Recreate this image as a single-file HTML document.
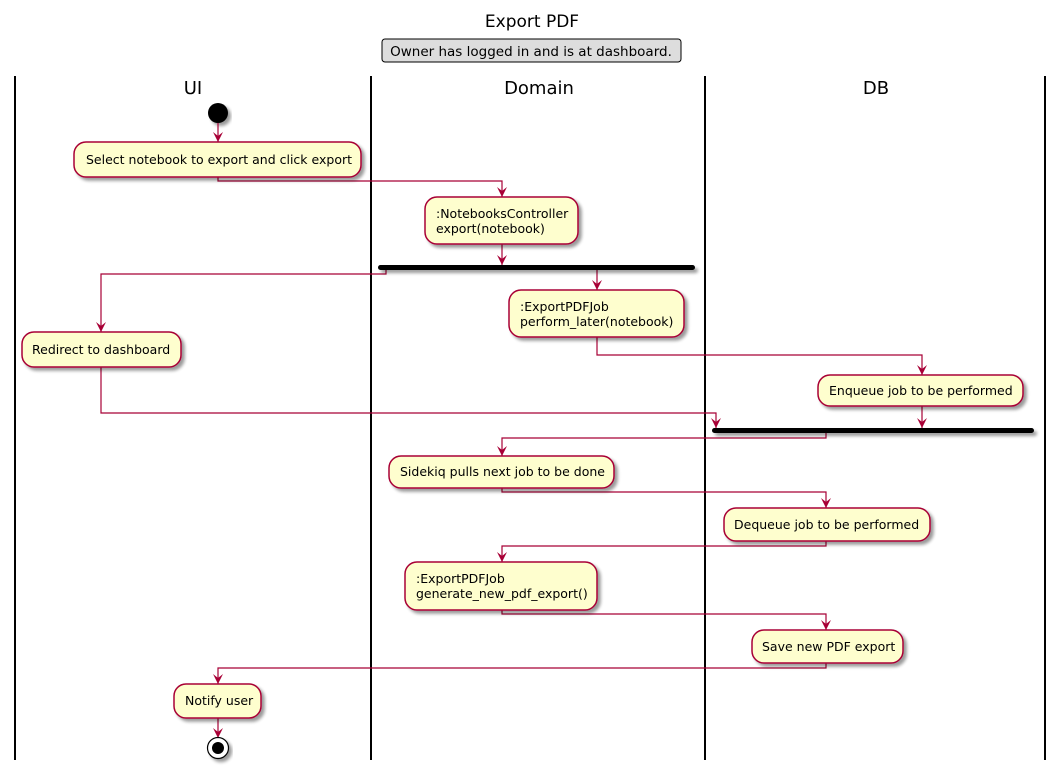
<!DOCTYPE html>
<html><head><meta charset="utf-8"><style>
html,body{margin:0;padding:0;background:#fff;width:1064px;height:775px;overflow:hidden}
text{font-family:"DejaVu Sans","Liberation Sans",sans-serif}
</style></head><body>
<svg width="1064" height="775" viewBox="0 0 1064 775" xmlns="http://www.w3.org/2000/svg">
<defs>
<filter id="sh" x="-10%" y="-10%" width="130%" height="150%"><feGaussianBlur in="SourceAlpha" stdDeviation="1.5"/><feOffset dx="3" dy="3"/><feComponentTransfer><feFuncA type="linear" slope="0.4"/></feComponentTransfer><feMerge><feMergeNode/><feMergeNode in="SourceGraphic"/></feMerge></filter>
<marker id="ar" viewBox="0 0 10 10" refX="10" refY="5" markerWidth="10" markerHeight="10" markerUnits="userSpaceOnUse" orient="auto"><path d="M0,0 L10,5 L0,10 L4,5 Z" fill="#A80036"/></marker>
</defs>
<text x="532" y="27" font-size="17" text-anchor="middle">Export PDF</text>
<rect x="382" y="39" width="299" height="23" rx="3" fill="#DDDDDD" stroke="#000" stroke-width="1"/>
<text x="531" y="56" font-size="13.5" text-anchor="middle">Owner has logged in and is at dashboard.</text>
<g stroke="#000" stroke-width="2"><line x1="15" y1="76" x2="15" y2="760"/><line x1="371" y1="76" x2="371" y2="760"/><line x1="705" y1="76" x2="705" y2="760"/><line x1="1045" y1="76" x2="1045" y2="760"/></g>
<g font-size="18" text-anchor="middle"><text x="193" y="94">UI</text><text x="539" y="94">Domain</text><text x="876" y="94">DB</text></g>
<circle cx="218" cy="113" r="10" fill="#000" filter="url(#sh)"/>
<g fill="none" stroke="#A80036" stroke-width="1.2">
<path d="M218,123 V142" marker-end="url(#ar)"/>
<path d="M218,177 V181 H502 V197" marker-end="url(#ar)"/>
<path d="M502,244 V265" marker-end="url(#ar)"/>
<path d="M386,270 V274 H101 V332" marker-end="url(#ar)"/>
<path d="M597,270 V290" marker-end="url(#ar)"/>
<path d="M597,337 V355 H922 V375" marker-end="url(#ar)"/>
<path d="M101,367 V413 H716 V428" marker-end="url(#ar)"/>
<path d="M922,406 V428" marker-end="url(#ar)"/>
<path d="M826,433 V438 H502 V456" marker-end="url(#ar)"/>
<path d="M502,488 V492 H826 V508" marker-end="url(#ar)"/>
<path d="M826,541 V546 H502 V562" marker-end="url(#ar)"/>
<path d="M502,610 V614 H826 V630" marker-end="url(#ar)"/>
<path d="M826,663 V668 H218 V684" marker-end="url(#ar)"/>
<path d="M218,718 V738" marker-end="url(#ar)"/>
</g>
<g fill="#FEFECE" stroke="#A80036" stroke-width="1.5" filter="url(#sh)">
<rect x="74" y="142" width="287" height="35" rx="12"/>
<rect x="425" y="197" width="153" height="47" rx="12"/>
<rect x="509" y="290" width="175" height="47" rx="12"/>
<rect x="22" y="332" width="159" height="35" rx="12"/>
<rect x="818" y="375" width="205" height="31" rx="12"/>
<rect x="389" y="456" width="225" height="32" rx="12"/>
<rect x="724" y="508" width="206" height="33" rx="12"/>
<rect x="405" y="562" width="192" height="48" rx="12"/>
<rect x="752" y="630" width="151" height="33" rx="12"/>
<rect x="174" y="684" width="87" height="34" rx="12"/>
</g>
<g fill="#000" filter="url(#sh)">
<rect x="378" y="265" width="317" height="5" rx="2.5"/>
<rect x="712" y="428" width="322" height="5" rx="2.5"/>
</g>
<g font-size="12.5" fill="#000">
<text x="86" y="164">Select notebook to export and click export</text>
<text x="436" y="218">:NotebooksController</text><text x="436" y="233">export(notebook)</text>
<text x="520" y="311">:ExportPDFJob</text><text x="520" y="326">perform_later(notebook)</text>
<text x="32" y="354">Redirect to dashboard</text>
<text x="829" y="395">Enqueue job to be performed</text>
<text x="400" y="476">Sidekiq pulls next job to be done</text>
<text x="734" y="529">Dequeue job to be performed</text>
<text x="416" y="583">:ExportPDFJob</text><text x="416" y="598">generate_new_pdf_export()</text>
<text x="762" y="651">Save new PDF export</text>
<text x="185" y="705">Notify user</text>
</g>
<circle cx="218" cy="748" r="10.5" fill="#fff" stroke="#000" stroke-width="1.2" filter="url(#sh)"/>
<circle cx="218" cy="748" r="6" fill="#000"/>
</svg>
</body></html>
